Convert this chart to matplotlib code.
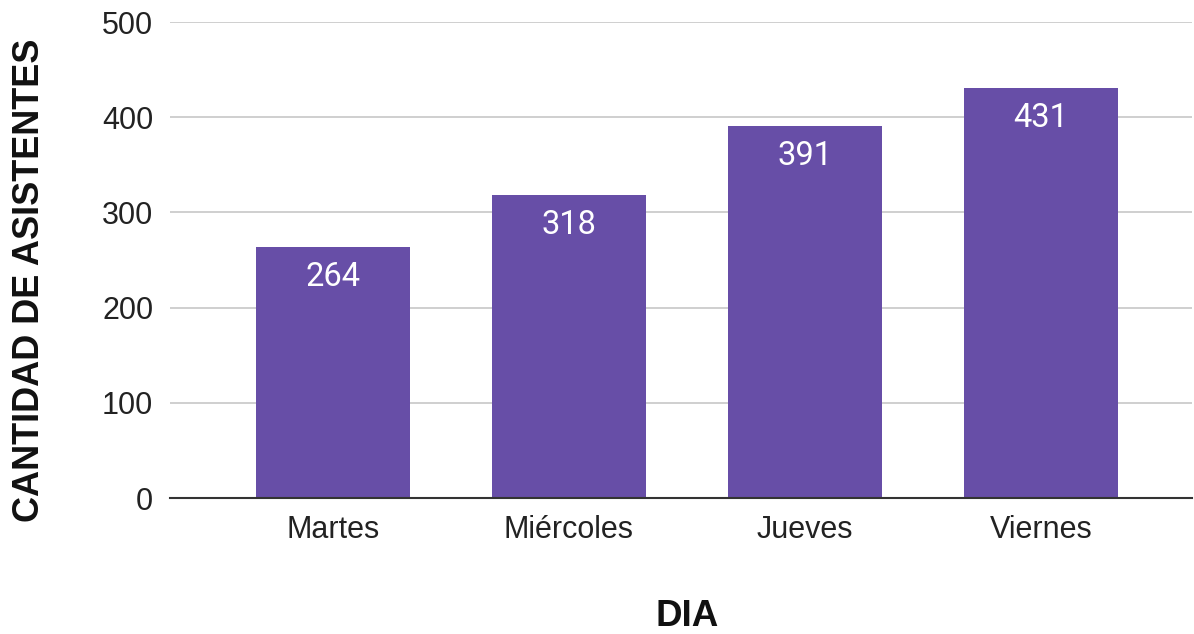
import matplotlib
matplotlib.use("Agg")
import matplotlib.pyplot as plt

categories = ["Martes", "Miércoles", "Jueves", "Viernes"]
values = [264, 318, 391, 431]
yticks = [0, 100, 200, 300, 400, 500]

fig = plt.figure(figsize=(11.94, 6.34), dpi=100)
ax = fig.add_axes([170/1194, 1-498/634, 1022/1194, (498-22)/634])

x = range(len(categories))
bars = ax.bar(x, values, width=0.65, color="#674ea7", zorder=3)
for xi, v in zip(x, values):
    ax.annotate(str(v), (xi, v), xytext=(0, -10), textcoords="offset points",
                ha="center", va="top", color="white", fontsize=23.5, family="Roboto", zorder=4)

ax.set_xlim(-0.69, 3.64)
ax.set_ylim(0, 500)
ax.set_yticks(yticks)
ax.set_yticklabels([str(t) for t in yticks], fontsize=22, family="Liberation Sans", color="#222222")
ax.set_xticks(list(x))
ax.set_xticklabels(categories, fontsize=22, family="Liberation Sans", color="#222222")
ax.tick_params(axis="both", length=0)
ax.tick_params(axis="y", pad=12)
ax.tick_params(axis="x", pad=12)
ax.grid(axis="y", color="#cccccc", linewidth=1.3, zorder=0)
for s in ["top", "right", "left"]:
    ax.spines[s].set_visible(False)
ax.spines["bottom"].set_color("#333333")
ax.spines["bottom"].set_linewidth(1.5)
ax.spines["bottom"].set_zorder(5)

fig.text(687/1194, 1-617/634, "DIA", ha="center", va="center", fontsize=26.5,
         fontweight="bold", family="Liberation Sans", color="#111111")
fig.text(30/1194, 1-280/634, "CANTIDAD DE ASISTENTES", ha="center", va="center", rotation=90,
         fontsize=26, fontweight="bold", family="Liberation Sans", color="#111111")

fig.savefig("out.png", dpi=100)
